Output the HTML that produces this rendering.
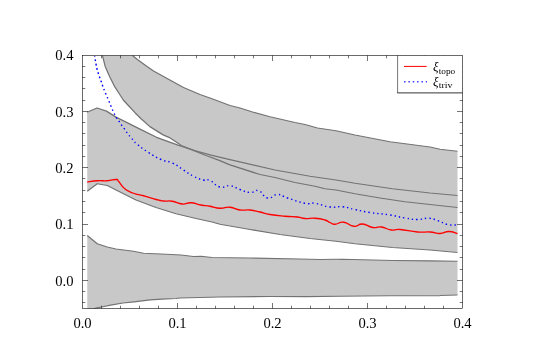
<!DOCTYPE html>
<html><head><meta charset="utf-8"><style>
html,body{margin:0;padding:0;background:#fff;}
svg{display:block;font-family:"Liberation Serif",serif;}
</style></head><body>
<svg width="545" height="364" viewBox="0 0 545 364">
<rect width="545" height="364" fill="#fff"/>
<defs><filter id="id" x="-5%" y="-5%" width="110%" height="110%" color-interpolation-filters="sRGB"><feOffset dx="0" dy="0"/></filter><clipPath id="c"><rect x="82.5" y="55.5" width="380.0" height="253.0"/></clipPath></defs>
<g clip-path="url(#c)">
<g fill="#c8c8c8" stroke="none">
<polygon points="132.4,55.4 137.4,59.5 146,65.8 153.5,71 183.5,87.5 200,94.5 212,98.75 230,105.5 240,108 252.5,112 270,116.75 295,122.5 305,124.5 317.5,128 336,130.75 355,135 390,141.75 430,147 440,149.25 457.5,151.25 457.5,207.5 430,204.5 405,201.75 380,198 355,193.75 336,190 325,188.75 315,186.25 295,182.5 275,177.5 260,174.5 230,164.9 219.2,160.4 206,155.5 197.8,152.2 181.3,145.6 175.5,141.5 168.9,137.3 163.1,134.9 149.9,126.6 142.5,120 141.3,119 135,112.7 128.6,105.7 123.3,100 120.4,95.5 114.7,86.7 109.6,76.5 105.2,66.4 102.4,55.4"/>
<polygon points="87.1,112.3 97,108 106.5,111.1 116,117.1 128.6,123.4 140,129.1 156.5,137.3 178,145.2 194.5,150.5 211,155.1 230,159.6 275,170 310,176.25 336,180 355,183.25 392.5,188.75 430,193 457.5,195.5 457.5,252.5 430,250 392.5,247.5 355,243.75 336,241.25 310,238.5 280,234.5 250,229.5 220,224.25 212,222 196,218.5 176,213.75 156,207.5 136,200 121,192.5 107.25,185.5 97.25,183.75 87.25,191.25"/>
<polygon points="87.25,235.5 97.25,243.75 107.25,247 116,249 133.5,251.25 143.5,253.25 161,254 181,255 193.5,256.5 201,256.25 212,257.5 250,258 300,259 320,259.5 336,259.25 342.5,259.25 392.5,260.5 430,260.75 457.5,261.25 457.5,295 440,295.5 390,295.75 340,296.25 306,296.5 270,296.5 220,297 180,298 176,298.5 162,299.1 150,299.9 134,301.8 123,303 112,304.8 101.6,307 95.5,308.2 87.25,312"/>
</g>
<g fill="none" stroke="#737373" stroke-width="1.25" stroke-linejoin="round">
<polyline points="132.4,55.4 137.4,59.5 146,65.8 153.5,71 183.5,87.5 200,94.5 212,98.75 230,105.5 240,108 252.5,112 270,116.75 295,122.5 305,124.5 317.5,128 336,130.75 355,135 390,141.75 430,147 440,149.25 457.5,151.25"/>
<polyline points="102.4,55.4 105.2,66.4 109.6,76.5 114.7,86.7 120.4,95.5 123.3,100 128.6,105.7 135,112.7 141.3,119 142.5,120 149.9,126.6 163.1,134.9 168.9,137.3 175.5,141.5 181.3,145.6 197.8,152.2 206,155.5 219.2,160.4 230,164.9 260,174.5 275,177.5 295,182.5 315,186.25 325,188.75 336,190 355,193.75 380,198 405,201.75 430,204.5 457.5,207.5"/>
<polyline points="87.1,112.3 97,108 106.5,111.1 116,117.1 128.6,123.4 140,129.1 156.5,137.3 178,145.2 194.5,150.5 211,155.1 230,159.6 275,170 310,176.25 336,180 355,183.25 392.5,188.75 430,193 457.5,195.5"/>
<polyline points="87.25,191.25 97.25,183.75 107.25,185.5 121,192.5 136,200 156,207.5 176,213.75 196,218.5 212,222 220,224.25 250,229.5 280,234.5 310,238.5 336,241.25 355,243.75 392.5,247.5 430,250 457.5,252.5"/>
<polyline points="87.25,235.5 97.25,243.75 107.25,247 116,249 133.5,251.25 143.5,253.25 161,254 181,255 193.5,256.5 201,256.25 212,257.5 250,258 300,259 320,259.5 336,259.25 342.5,259.25 392.5,260.5 430,260.75 457.5,261.25"/>
<polyline points="87.25,312 95.5,308.2 101.6,307 112,304.8 123,303 134,301.8 150,299.9 162,299.1 176,298.5 180,298 220,297 270,296.5 306,296.5 340,296.25 390,295.75 440,295.5 457.5,295"/>
</g>
<path d="M87.25,182C89.92,181.67 91.92,181.08 97.25,180.75C102.58,180.42 102.25,181.08 107.25,180.75C112.25,180.42 113.00,179.37 116,179.5C119.00,179.63 116.17,178.78 118.5,181.25C120.83,183.72 120.75,185.55 124.75,188.75C128.75,191.95 128.50,191.38 133.5,193.25C138.50,195.12 137.50,194.08 143.5,195.75C149.50,197.42 150.67,198.10 156,199.5C161.33,200.90 159.17,200.53 163.5,201C167.83,201.47 167.25,200.45 172.25,201.25C177.25,202.05 177.25,203.60 182.25,204C187.25,204.40 186.00,202.48 191,202.75C196.00,203.02 195.93,204.07 201,205C206.07,205.93 204.93,205.38 210,206.25C215.07,207.12 214.67,207.98 220,208.25C225.33,208.52 224.67,206.78 230,207.25C235.33,207.72 234.67,209.27 240,210C245.33,210.73 244.67,209.47 250,210C255.33,210.53 254.67,210.80 260,212C265.33,213.20 263.33,213.37 270,214.5C276.67,215.63 277.67,215.58 285,216.25C292.33,216.92 292.17,216.40 297.5,217C302.83,217.60 300.33,218.17 305,218.5C309.67,218.83 309.67,217.85 315,218.25C320.33,218.65 321.00,218.87 325,220C329.00,221.13 327.33,221.37 330,222.5C332.67,223.63 331.33,224.32 335,224.25C338.67,224.18 338.75,221.72 343.75,222.25C348.75,222.78 348.75,225.78 353.75,226.25C358.75,226.72 357.50,223.67 362.5,224C367.50,224.33 367.50,226.70 372.5,227.5C377.50,228.30 376.25,226.33 381.25,227C386.25,227.67 386.25,229.33 391.25,230C396.25,230.67 393.00,228.97 400,229.5C407.00,230.03 409.50,231.33 417.5,232C425.50,232.67 424.00,231.60 430,232C436.00,232.40 435.00,233.63 440,233.5C445.00,233.37 444.08,231.50 448.75,231.5C453.42,231.50 455.17,232.97 457.5,233.5" fill="none" stroke="#f00" stroke-width="1.3" stroke-linejoin="round"/>
<path d="M94.7,55.9C94.86,57.02 94.93,57.81 95.3,60.1C95.67,62.39 95.65,62.13 96.1,64.5C96.55,66.87 96.44,66.73 97,69C97.56,71.27 97.53,70.89 98.2,73C98.87,75.11 98.75,74.77 99.5,76.9C100.25,79.03 100.20,78.73 101,81C101.80,83.27 101.73,83.21 102.5,85.4C103.27,87.59 103.07,87.07 103.9,89.2C104.73,91.33 104.24,90.17 105.6,93.4C106.96,96.63 107.64,98.10 109,101.3C110.36,104.50 109.85,103.29 110.7,105.4C111.55,107.51 111.32,107.17 112.2,109.2C113.08,111.23 112.99,110.92 114,113C115.01,115.08 114.80,114.97 116,117C117.20,119.03 117.17,118.65 118.5,120.6C119.83,122.55 119.64,122.38 121,124.3C122.36,126.22 122.24,125.91 123.6,127.8C124.96,129.69 124.77,129.53 126.1,131.4C127.43,133.27 127.19,133.04 128.6,134.8C130.01,136.56 129.88,136.24 131.4,138C132.92,139.76 132.75,139.72 134.3,141.4C135.85,143.08 133.41,141.34 137.2,144.3C140.99,147.26 142.15,148.45 148.5,152.5C154.85,156.55 154.67,156.70 161,159.5C167.33,162.30 166.25,160.20 172.25,163C178.25,165.80 177.83,166.47 183.5,170C189.17,173.53 188.17,173.58 193.5,176.25C198.83,178.92 199.10,178.87 203.5,180C207.90,181.13 205.60,178.63 210,180.5C214.40,182.37 214.67,185.60 220,187C225.33,188.40 224.67,185.08 230,185.75C235.33,186.42 234.67,187.70 240,189.5C245.33,191.30 245.00,192.17 250,192.5C255.00,192.83 254.08,189.28 258.75,190.75C263.42,192.22 262.50,197.00 267.5,198C272.50,199.00 272.17,194.50 277.5,194.5C282.83,194.50 280.17,195.67 287.5,198C294.83,200.33 297.67,201.85 305,203.25C312.33,204.65 308.33,202.25 315,203.25C321.67,204.25 322.67,206.07 330,207C337.33,207.93 335.83,206.08 342.5,206.75C349.17,207.42 347.67,207.97 355,209.5C362.33,211.03 360.67,211.03 370,212.5C379.33,213.97 380.67,213.53 390,215C399.33,216.47 397.67,216.80 405,218C412.33,219.20 411.17,219.43 417.5,219.5C423.83,219.57 423.42,217.98 428.75,218.25C434.08,218.52 432.50,218.83 437.5,220.5C442.50,222.17 442.50,223.30 447.5,224.5C452.50,225.70 453.92,224.87 456.25,225" fill="none" stroke="#00f" stroke-width="1.4" stroke-dasharray="1.4 3.0" stroke-dashoffset="0.7" stroke-linejoin="round"/>
</g>
<path d="M101.5,308.5v-2.8M101.5,55.5v2.8M120.5,308.5v-2.8M120.5,55.5v2.8M139.5,308.5v-2.8M139.5,55.5v2.8M158.5,308.5v-2.8M158.5,55.5v2.8M177.5,308.5v-5.5M177.5,55.5v5.5M196.5,308.5v-2.8M196.5,55.5v2.8M215.5,308.5v-2.8M215.5,55.5v2.8M234.5,308.5v-2.8M234.5,55.5v2.8M253.5,308.5v-2.8M253.5,55.5v2.8M272.5,308.5v-5.5M272.5,55.5v5.5M291.5,308.5v-2.8M291.5,55.5v2.8M310.5,308.5v-2.8M310.5,55.5v2.8M329.5,308.5v-2.8M329.5,55.5v2.8M348.5,308.5v-2.8M348.5,55.5v2.8M367.5,308.5v-5.5M367.5,55.5v5.5M386.5,308.5v-2.8M386.5,55.5v2.8M405.5,308.5v-2.8M405.5,55.5v2.8M424.5,308.5v-2.8M424.5,55.5v2.8M443.5,308.5v-2.8M443.5,55.5v2.8M82.5,302.5h2.8M462.5,302.5h-2.8M82.5,291.5h2.8M462.5,291.5h-2.8M82.5,280.5h5.5M462.5,280.5h-5.5M82.5,269.5h2.8M462.5,269.5h-2.8M82.5,257.5h2.8M462.5,257.5h-2.8M82.5,246.5h2.8M462.5,246.5h-2.8M82.5,235.5h2.8M462.5,235.5h-2.8M82.5,224.5h5.5M462.5,224.5h-5.5M82.5,212.5h2.8M462.5,212.5h-2.8M82.5,201.5h2.8M462.5,201.5h-2.8M82.5,190.5h2.8M462.5,190.5h-2.8M82.5,178.5h2.8M462.5,178.5h-2.8M82.5,167.5h5.5M462.5,167.5h-5.5M82.5,156.5h2.8M462.5,156.5h-2.8M82.5,145.5h2.8M462.5,145.5h-2.8M82.5,133.5h2.8M462.5,133.5h-2.8M82.5,122.5h2.8M462.5,122.5h-2.8M82.5,111.5h5.5M462.5,111.5h-5.5M82.5,100.5h2.8M462.5,100.5h-2.8M82.5,88.5h2.8M462.5,88.5h-2.8M82.5,77.5h2.8M462.5,77.5h-2.8M82.5,66.5h2.8M462.5,66.5h-2.8" stroke="#000" stroke-width="0.55" fill="none"/>
<rect x="397.6" y="55.5" width="64.89999999999998" height="37.400000000000006" fill="#fff" stroke="none"/>
<rect x="82.5" y="55.5" width="380.0" height="253.0" fill="none" stroke="#000" stroke-width="0.58"/>
<path d="M397.6,55.5V92.9" stroke="#000" stroke-width="0.55" fill="none"/><path d="M397.3,92.9H462.5" stroke="#000" stroke-width="0.8" fill="none"/>
<path d="M404,66.4H426.7" stroke="#f00" stroke-width="1"/>
<path d="M404,81.7H427" stroke="#00f" stroke-width="1.4" stroke-dasharray="1.6 2.75" opacity="0.72"/>
<g font-size="13px" fill="#000" filter="url(#id)">
<text x="433" y="71.2" font-style="italic">ξ</text>
<text x="438.7" y="73.7" font-size="8.5px" textLength="16.6" lengthAdjust="spacingAndGlyphs">topo</text>
<text x="433" y="86.2" font-style="italic">ξ</text>
<text x="438.7" y="88.4" font-size="8.5px" textLength="13.7" lengthAdjust="spacingAndGlyphs">triv</text>
</g>
<g font-size="14.6px" fill="#000" filter="url(#id)"><text x="82.5" y="327.6" text-anchor="middle">0.0</text><text x="177.5" y="327.6" text-anchor="middle">0.1</text><text x="272.5" y="327.6" text-anchor="middle">0.2</text><text x="367.5" y="327.6" text-anchor="middle">0.3</text><text x="462.5" y="327.6" text-anchor="middle">0.4</text><text x="73.5" y="285.6" text-anchor="end">0.0</text><text x="73.5" y="229.32" text-anchor="end">0.1</text><text x="73.5" y="173.04" text-anchor="end">0.2</text><text x="73.5" y="116.76" text-anchor="end">0.3</text><text x="73.5" y="60.48" text-anchor="end">0.4</text></g>
</svg>
</body></html>
